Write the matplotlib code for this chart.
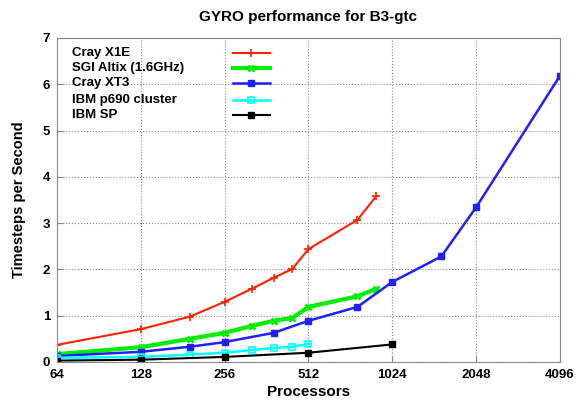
import matplotlib
matplotlib.use("Agg")
import matplotlib.pyplot as plt

plt.rcParams['font.family'] = ['Liberation Sans', 'DejaVu Sans']
plt.rcParams['font.weight'] = 'bold'

# Cray X1E
x1e_procs = [64, 128, 192, 256, 320, 384, 448, 512, 768, 896]
x1e_rate = [0.37, 0.71, 0.98, 1.30, 1.58, 1.82, 2.01, 2.44, 3.07, 3.58]

# SGI Altix (1.6GHz)
altix_procs = [64, 128, 192, 256, 320, 384, 448, 512, 768, 896]
altix_rate = [0.17, 0.32, 0.50, 0.63, 0.78, 0.89, 0.95, 1.19, 1.42, 1.58]

# Cray XT3
xt3_procs = [64, 128, 192, 256, 384, 512, 768, 1024, 1536, 2048, 4096]
xt3_rate = [0.13, 0.22, 0.33, 0.43, 0.63, 0.89, 1.19, 1.73, 2.28, 3.34, 6.18]

# IBM p690 cluster
p690_procs = [64, 128, 192, 256, 320, 384, 448, 512]
p690_rate = [0.09, 0.11, 0.16, 0.20, 0.26, 0.30, 0.33, 0.39]

# IBM SP
sp_procs = [64, 128, 256, 512, 1024]
sp_rate = [0.03, 0.05, 0.11, 0.20, 0.38]

xticks = [64, 128, 256, 512, 1024, 2048, 4096]

fig = plt.figure(figsize=(5.76, 4.0), dpi=100)
ax = fig.add_axes([0.099, 0.095, 0.873, 0.81])

lines = []
lines += ax.plot(x1e_procs, x1e_rate, color='#ff2000', lw=1.5, marker='+', ms=6, mew=1.2, label='Cray X1E')
lines += ax.plot(altix_procs, altix_rate, color='#00ee00', lw=3, marker='x', ms=5, mew=2, label='SGI Altix (1.6GHz)')
lines += ax.plot(xt3_procs, xt3_rate, color='#2020ff', lw=1.8, marker='s', ms=4, label='Cray XT3')
lines += ax.plot(p690_procs, p690_rate, color='#00ffff', lw=1.8, marker='s', ms=5, mfc='none', mew=1.2, label='IBM p690 cluster')
lines += ax.plot(sp_procs, sp_rate, color='black', lw=1.5, marker='s', ms=4, label='IBM SP')

ax.set_xscale('log', base=2)
ax.set_xlim(64, 4096)
ax.set_ylim(0, 7)
ax.set_xticks(xticks)
ax.set_xticklabels([str(t) for t in xticks])
ax.minorticks_off()
ax.tick_params(labelsize=9.5, direction='in', length=4, color='#888888', pad=5)
ax.grid(True, linestyle=':', color='#888888', lw=0.8)
for s in ax.spines.values():
    s.set_color('#888888')

ax.set_title('GYRO performance for B3-gtc', fontsize=11, fontweight='bold', pad=12)
ax.set_xlabel('Processors', fontsize=11, fontweight='bold', labelpad=3)
ax.set_ylabel('Timesteps per Second', fontsize=10.5, fontweight='bold', labelpad=12)

# gnuplot-style key: labels left-aligned, line samples to the right
row_y = [0.955, 0.908, 0.861, 0.810, 0.761]
for ln, yy in zip(lines, row_y):
    ax.text(0.03, yy, ln.get_label(), transform=ax.transAxes, fontsize=9.5,
            fontweight='bold', ha='left', va='center')
    ax.plot([0.35, 0.423], [yy, yy], transform=ax.transAxes, color=ln.get_color(),
            lw=ln.get_linewidth(), clip_on=False)
    ax.plot([0.3865], [yy], transform=ax.transAxes, color=ln.get_color(),
            marker=ln.get_marker(), ms=ln.get_markersize(), mew=ln.get_markeredgewidth(),
            mfc=ln.get_markerfacecolor(), clip_on=False)

fig.savefig('out.png', dpi=100)
